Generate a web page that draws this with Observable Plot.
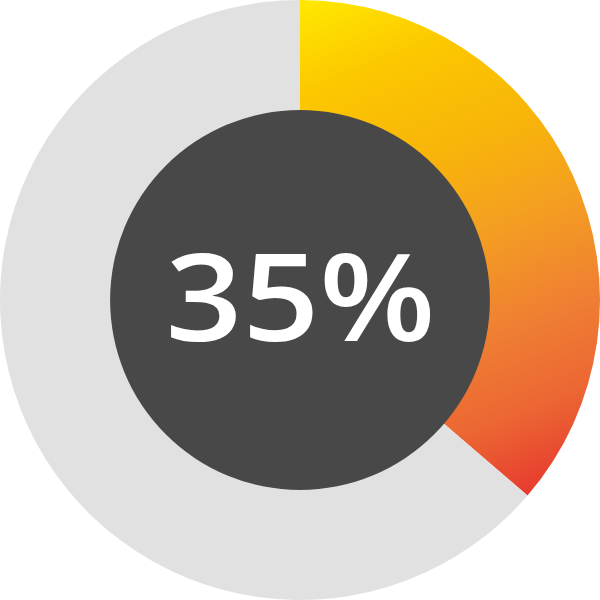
<!DOCTYPE html>
<html>
<head>
<meta charset="utf-8">
<script src="https://cdn.jsdelivr.net/npm/d3@7"></script>
<script src="https://cdn.jsdelivr.net/npm/@observablehq/plot@0.6"></script>
<style>
  html, body { margin: 0; padding: 0; background: #ffffff; }
  #chart svg { display: block; }
</style>
</head>
<body>
<div id="chart"></div>
<script>
// ---- data ----
const segmentNames = ["share", "remainder"];
const segmentShares = [36.3, 63.7];          // arc sweep as drawn (percent)
const segmentFills = ["url(#arcGradient)", "#e1e1e1"];
const labelValue = 35;                        // number printed in the centre
const labelText = `${labelValue}%`;
const ringOuter = 1.0;                        // radii in data units
const ringInner = 0.633;
const gradientStops = [
  [0.00, "#ffe600"],
  [0.15, "#fcc800"],
  [0.35, "#f8b40a"],
  [0.50, "#f4a020"],
  [0.70, "#ef7e33"],
  [0.85, "#ec6633"],
  [1.00, "#e63a2e"]
];

const segments = segmentNames.map((name, i) => ({name, share: segmentShares[i], fill: segmentFills[i]}));

function donutMark(index, scales) {
  const svgNS = "http://www.w3.org/2000/svg";
  const g = document.createElementNS(svgNS, "g");
  const cx = scales.x(0), cy = scales.y(0);
  const rOuter = Math.abs(scales.x(ringOuter) - cx);
  const rInner = Math.abs(scales.x(ringInner) - cx);

  const defs = document.createElementNS(svgNS, "defs");
  const lg = document.createElementNS(svgNS, "linearGradient");
  lg.setAttribute("id", "arcGradient");
  lg.setAttribute("gradientUnits", "userSpaceOnUse");
  lg.setAttribute("x1", cx + 0.067 * rOuter);
  lg.setAttribute("y1", cy - rOuter);
  lg.setAttribute("x2", cx + 0.733 * rOuter);
  lg.setAttribute("y2", cy + 0.667 * rOuter);
  for (const [o, c] of gradientStops) {
    const s = document.createElementNS(svgNS, "stop");
    s.setAttribute("offset", o);
    s.setAttribute("stop-color", c);
    lg.appendChild(s);
  }
  defs.appendChild(lg);
  g.appendChild(defs);

  const pie = d3.pie().sort(null).value(d => d.share)(segments);
  for (const p of pie) {
    const ctx = d3.path();
    ctx.moveTo(cx, cy);
    ctx.arc(cx, cy, rOuter, p.startAngle - Math.PI / 2, p.endAngle - Math.PI / 2);
    ctx.closePath();
    const path = document.createElementNS(svgNS, "path");
    path.setAttribute("d", ctx.toString());
    path.setAttribute("fill", p.data.fill);
    g.appendChild(path);
  }
  const inner = document.createElementNS(svgNS, "circle");
  inner.setAttribute("cx", cx);
  inner.setAttribute("cy", cy);
  inner.setAttribute("r", rInner);
  inner.setAttribute("fill", "#484848");
  g.appendChild(inner);
  return g;
}

const chart = Plot.plot({
  width: 600,
  height: 600,
  margin: 0,
  x: {domain: [-1, 1], axis: null},
  y: {domain: [-1, 1], axis: null},
  marks: [
    donutMark,
    Plot.text([labelText], {
      x: () => 0, y: () => 0, text: d => d,
      fill: "white",
      fontSize: 122,
      fontWeight: 600,
      fontFamily: "'Open Sans', sans-serif",
      lineAnchor: "middle",
      dy: 1
    })
  ]
});
chart.querySelectorAll("text").forEach(t => {
  if (t.textContent === labelText) {
    t.setAttribute("textLength", 270);
    t.setAttribute("lengthAdjust", "spacingAndGlyphs");
  }
});
document.getElementById("chart").appendChild(chart);
</script>
</body>
</html>
